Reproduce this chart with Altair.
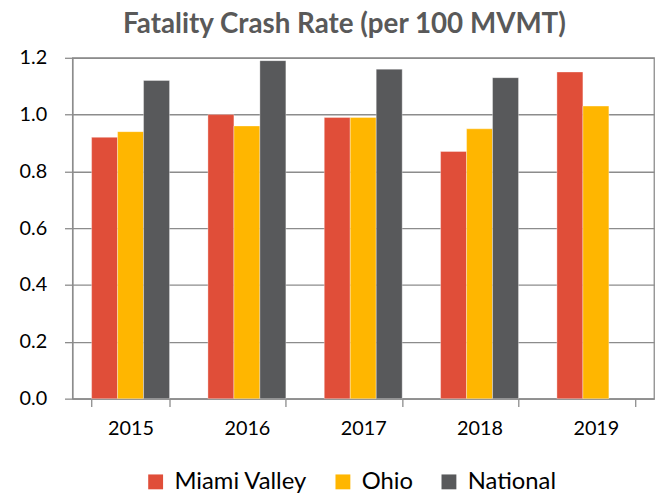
import altair as alt
import pandas as pd

years = ["2015", "2016", "2017", "2018", "2019"]
series = ["Miami Valley", "Ohio", "National"]
miami_valley = [0.92, 1.00, 0.99, 0.87, 1.15]
ohio = [0.94, 0.96, 0.99, 0.95, 1.03]
national = [1.12, 1.19, 1.16, 1.13, None]
colors = ["#E04E39", "#FFB600", "#58595B"]
y_ticks = [0.0, 0.2, 0.4, 0.6, 0.8, 1.0, 1.2]

rows = []
for name, vals in zip(series, [miami_valley, ohio, national]):
    for yr, v in zip(years, vals):
        if v is not None:
            rows.append({"year": yr, "series": name, "value": v})
df = pd.DataFrame(rows)

FONT = "Lato"
GRID = "#8C8C8C"

chart = (
    alt.Chart(df)
    .mark_bar(stroke="white", strokeWidth=1, strokeOpacity=0.35)
    .encode(
        x=alt.X(
            "year:N",
            sort=years,
            scale=alt.Scale(paddingInner=0.33, paddingOuter=0.165),
            axis=alt.Axis(
                title=None,
                labelAngle=0,
                tickBand="extent",
                labelFontSize=20,
                labelFont=FONT,
                labelColor="#000000",
                labelPadding=12,
                tickSize=8,
                tickColor=GRID,
                tickWidth=1.3,
                domainColor=GRID,
                domainWidth=1.3,
                grid=False,
            ),
        ),
        xOffset=alt.XOffset(
            "series:N", sort=series, scale=alt.Scale(domain=series, paddingInner=0, paddingOuter=0)
        ),
        y=alt.Y(
            "value:Q",
            scale=alt.Scale(domain=[0, 1.2], nice=False),
            axis=alt.Axis(
                title=None,
                values=y_ticks,
                format=".1f",
                labelFontSize=20,
                labelFont=FONT,
                labelColor="#000000",
                labelPadding=18,
                tickSize=8,
                tickColor=GRID,
                tickWidth=1.3,
                domainColor=GRID,
                domainWidth=1.3,
                gridColor=GRID,
                gridWidth=1.3,
            ),
        ),
        color=alt.Color(
            "series:N",
            sort=series,
            scale=alt.Scale(domain=series, range=colors),
            legend=alt.Legend(
                title=None,
                orient="none",
                legendX=72,
                legendY=416,
                direction="horizontal",
                symbolType="square",
                symbolSize=225,
                symbolStrokeWidth=0,
                labelFontSize=24,
                labelFont=FONT,
                labelColor="#000000",
                labelOffset=7,
                columnPadding=24,
            ),
        ),
    )
    .properties(
        width=587,
        height=344,
        title=alt.TitleParams(
            "Fatality Crash Rate (per 100 MVMT)",
            font=FONT,
            fontSize=28,
            fontWeight="bold",
            color="#595959",
            anchor="middle",
            dx=-19,
            offset=9,
        ),
        padding={"left": 65, "top": 48, "right": 5, "bottom": 96},
        autosize="none",
    )
    .configure_view(stroke=GRID, strokeWidth=1.3)
)

chart.save("out.html", embed_options={"renderer": "svg", "actions": False})
